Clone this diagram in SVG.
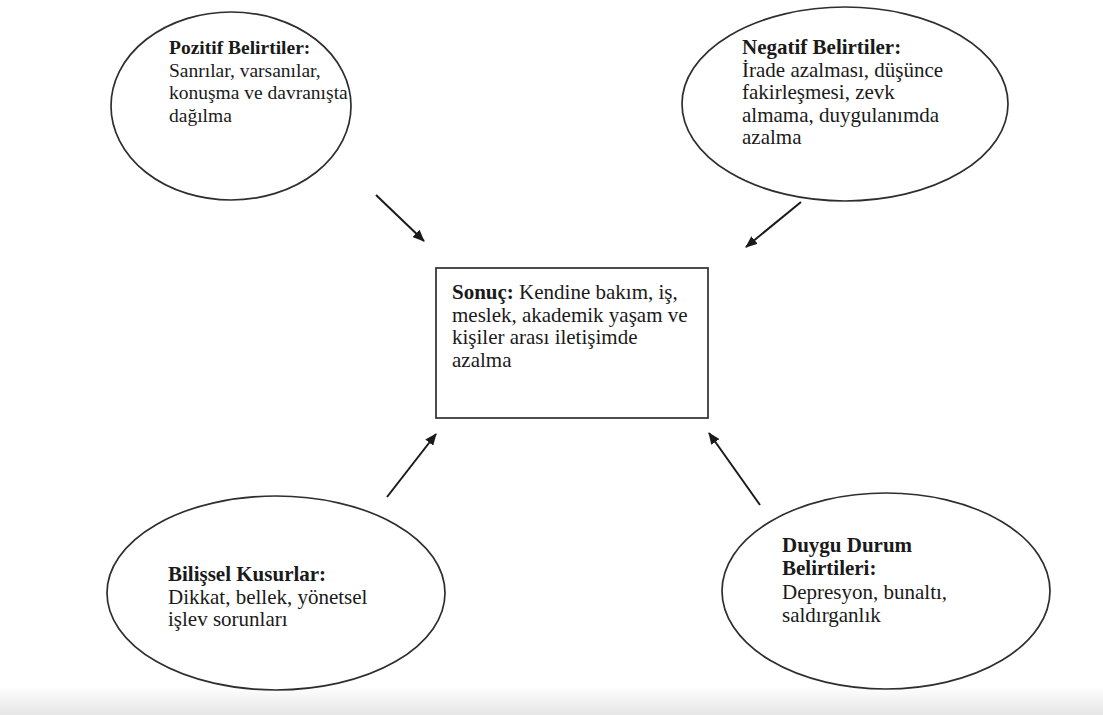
<svg xmlns="http://www.w3.org/2000/svg" width="1103" height="715" viewBox="0 0 1103 715">
<style>
  .shape { fill: #ffffff; stroke: #2e2e2e; stroke-width: 1.7; }
  .t { font-family: "Liberation Serif", "Times New Roman", serif; font-size: 21px; fill: #1a1a1a; }
  .s { font-size: 19.5px; }
  .b { font-weight: bold; }
  .conn { stroke: #1a1a1a; stroke-width: 2; fill: none; marker-end: url(#arrow); }
</style>
<defs>
  <marker id="arrow" viewBox="0 0 12 10" refX="11" refY="5" markerWidth="6" markerHeight="5" orient="auto" markerUnits="strokeWidth">
    <path d="M0,0 L12,5 L0,10 Z" fill="#1a1a1a"/>
  </marker>
  <linearGradient id="band" x1="0" y1="0" x2="0" y2="1">
    <stop offset="0" stop-color="#ffffff"/>
    <stop offset="1" stop-color="#e6e6e6"/>
  </linearGradient>
</defs>
<rect x="0" y="0" width="1103" height="715" fill="#ffffff"/>
<rect x="0" y="686" width="1103" height="29" fill="url(#band)"/>

<g id="connectors">
  <line class="conn" x1="376" y1="195" x2="424" y2="241"/>
  <line class="conn" x1="801" y1="202" x2="746" y2="247"/>
  <line class="conn" x1="387" y1="497" x2="436" y2="434"/>
  <line class="conn" x1="760" y1="505" x2="709" y2="433"/>
</g>

<g id="pozitif">
  <ellipse class="shape" cx="231" cy="106" rx="120" ry="94"/>
  <text class="t s" x="169" y="54"><tspan class="b">Pozitif Belirtiler:</tspan></text>
  <text class="t s" x="169" y="77">Sanrılar, varsanılar,</text>
  <text class="t s" x="169" y="99">konuşma ve davranışta</text>
  <text class="t s" x="169" y="122">dağılma</text>
</g>

<g id="negatif">
  <ellipse class="shape" cx="845" cy="104" rx="163" ry="97"/>
  <text class="t" x="742" y="54"><tspan class="b">Negatif Belirtiler:</tspan></text>
  <text class="t" x="742" y="77">İrade azalması, düşünce</text>
  <text class="t" x="742" y="99">fakirleşmesi, zevk</text>
  <text class="t" x="742" y="122">almama, duygulanımda</text>
  <text class="t" x="742" y="144">azalma</text>
</g>

<g id="sonuc">
  <rect class="shape" x="436" y="268" width="272" height="150"/>
  <text class="t" x="452" y="299"><tspan class="b">Sonuç:</tspan> Kendine bakım, iş,</text>
  <text class="t" x="452" y="322">meslek, akademik yaşam ve</text>
  <text class="t" x="452" y="344">kişiler arası iletişimde</text>
  <text class="t" x="452" y="367">azalma</text>
</g>

<g id="bilissel">
  <ellipse class="shape" cx="276" cy="593" rx="169" ry="97"/>
  <text class="t" x="168" y="581"><tspan class="b">Bilişsel Kusurlar:</tspan></text>
  <text class="t" x="168" y="604">Dikkat, bellek, yönetsel</text>
  <text class="t" x="168" y="626">işlev sorunları</text>
</g>

<g id="duygu">
  <ellipse class="shape" cx="886" cy="591" rx="164" ry="98"/>
  <text class="t" x="782" y="552"><tspan class="b">Duygu Durum</tspan></text>
  <text class="t" x="782" y="575"><tspan class="b">Belirtileri:</tspan></text>
  <text class="t" x="782" y="599">Depresyon, bunaltı,</text>
  <text class="t" x="782" y="622">saldırganlık</text>
</g>
</svg>
